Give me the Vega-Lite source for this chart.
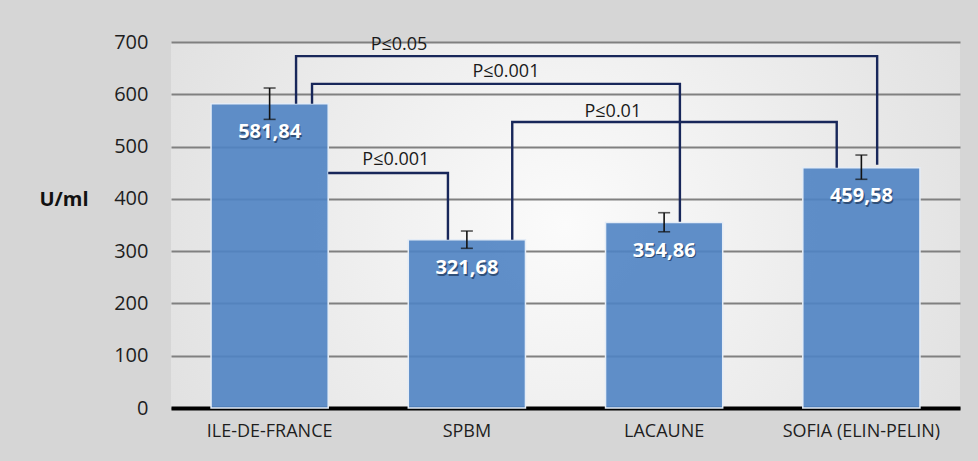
{
  "$schema": "https://vega.github.io/schema/vega-lite/v6.json",
  "width": 789,
  "height": 366,
  "autosize": {"type": "none"},
  "padding": {"left": 171, "top": 42, "right": 18, "bottom": 53},
  "background": "#d6d6d6",
  "config": {
    "font": "Open Sans",
    "view": {
      "stroke": null,
      "fill": {
        "gradient": "radial",
        "x1": 0.5, "y1": 0.5, "x2": 0.5, "y2": 0.5, "r1": 0, "r2": 0.75,
        "stops": [
          {"offset": 0, "color": "#fbfbfb"},
          {"offset": 1, "color": "#d8d8d8"}
        ]
      }
    },
    "axis": {"labelFont": "Open Sans", "labelColor": "#1e1e1e", "titleFont": "Open Sans"}
  },
  "datasets": {
    "bars": [
      {"group": "ILE-DE-FRANCE", "mean": 581.84, "lo": 552, "hi": 612, "label": "581,84"},
      {"group": "SPBM", "mean": 321.68, "lo": 305.4, "hi": 338.5, "label": "321,68"},
      {"group": "LACAUNE", "mean": 354.86, "lo": 337, "hi": 373.5, "label": "354,86"},
      {"group": "SOFIA (ELIN-PELIN)", "mean": 459.58, "lo": 437.4, "hi": 483.8, "label": "459,58"}
    ],
    "brackets": [
      {"bracket": "A", "order": 1, "pos": 0.634, "val": 581.84},
      {"bracket": "A", "order": 2, "pos": 0.634, "val": 673},
      {"bracket": "A", "order": 3, "pos": 3.58, "val": 673},
      {"bracket": "A", "order": 4, "pos": 3.58, "val": 465},
      {"bracket": "B", "order": 1, "pos": 0.715, "val": 581.84},
      {"bracket": "B", "order": 2, "pos": 0.715, "val": 620},
      {"bracket": "B", "order": 3, "pos": 2.58, "val": 620},
      {"bracket": "B", "order": 4, "pos": 2.58, "val": 356},
      {"bracket": "C", "order": 1, "pos": 1.73, "val": 322},
      {"bracket": "C", "order": 2, "pos": 1.73, "val": 547},
      {"bracket": "C", "order": 3, "pos": 3.375, "val": 547},
      {"bracket": "C", "order": 4, "pos": 3.375, "val": 459.58},
      {"bracket": "D", "order": 1, "pos": 0.797, "val": 449.5},
      {"bracket": "D", "order": 2, "pos": 1.404, "val": 449.5},
      {"bracket": "D", "order": 3, "pos": 1.404, "val": 322}
    ],
    "plabels": [
      {"pos": 1.156, "val": 694, "text": "P≤0.05"},
      {"pos": 1.698, "val": 642, "text": "P≤0.001"},
      {"pos": 2.24, "val": 566, "text": "P≤0.01"},
      {"pos": 1.14, "val": 474, "text": "P≤0.001"}
    ]
  },
  "layer": [
    {
      "data": {"name": "bars"},
      "encoding": {
        "x": {
          "field": "group",
          "type": "nominal",
          "sort": null,
          "scale": {"paddingInner": 0.406, "paddingOuter": 0.203},
          "axis": {
            "title": null,
            "labelAngle": 0,
            "labelFontSize": 18,
            "labelPadding": 14,
            "ticks": false,
            "tickSize": 0,
            "domainColor": "#000000",
            "domainWidth": 4,
            "labelColor": "#1e1e1e"
          }
        }
      },
      "layer": [
        {
          "mark": {"type": "bar", "color": "#4f83c3", "fillOpacity": 0.9, "stroke": "#e4ecf6", "strokeWidth": 1.5},
          "encoding": {
            "y": {
              "field": "mean",
              "type": "quantitative",
              "title": "U/ml",
              "scale": {"domain": [0, 700], "nice": false},
              "axis": {
                "values": [0, 100, 200, 300, 400, 500, 600, 700],
                "domain": false,
                "ticks": false,
                "tickSize": 0,
                "labelFontSize": 20,
                "labelPadding": 23,
                "gridColor": "#808080",
                "gridWidth": 1.8,
                "titleAngle": 0,
                "titleFontSize": 20,
                "titleFontWeight": "bold",
                "titleColor": "#111111",
                "titleAlign": "right",
                "titleBaseline": "middle",
                "titleX": -83,
                "titleY": 157
              }
            }
          }
        },
        {
          "mark": {"type": "errorbar", "color": "#111111", "thickness": 1.6, "ticks": {"size": 12, "thickness": 1.6, "color": "#111111"}},
          "encoding": {
            "y": {"field": "lo", "type": "quantitative", "title": "U/ml"},
            "y2": {"field": "hi"}
          }
        },
        {
          "mark": {"type": "text", "font": "Open Sans", "fontSize": 20, "fontWeight": "bold", "color": "#1c3558", "baseline": "middle", "dy": 30, "dx": 1.2, "opacity": 0.7},
          "encoding": {
            "y": {"field": "mean", "type": "quantitative", "title": "U/ml"},
            "text": {"field": "label"}
          }
        },
        {
          "mark": {"type": "text", "font": "Open Sans", "fontSize": 20, "fontWeight": "bold", "color": "#ffffff", "baseline": "middle", "dy": 28.5},
          "encoding": {
            "y": {"field": "mean", "type": "quantitative", "title": "U/ml"},
            "text": {"field": "label"}
          }
        }
      ]
    },
    {
      "layer": [
        {
          "data": {"name": "brackets"},
          "mark": {"type": "line", "color": "#18275a", "strokeWidth": 2.4, "strokeJoin": "miter"},
          "encoding": {
            "x": {"field": "pos", "type": "quantitative", "scale": {"domain": [0, 4], "nice": false, "zero": false}, "axis": null},
            "y": {"field": "val", "type": "quantitative", "title": "U/ml"},
            "detail": {"field": "bracket"},
            "order": {"field": "order"}
          }
        },
        {
          "data": {"name": "plabels"},
          "mark": {"type": "text", "font": "Open Sans", "fontSize": 18, "color": "#1a1a1a", "baseline": "middle"},
          "encoding": {
            "x": {"field": "pos", "type": "quantitative", "scale": {"domain": [0, 4], "nice": false, "zero": false}, "axis": null},
            "y": {"field": "val", "type": "quantitative", "title": "U/ml"},
            "text": {"field": "text"}
          }
        }
      ]
    }
  ],
  "resolve": {"scale": {"x": "independent"}}
}
